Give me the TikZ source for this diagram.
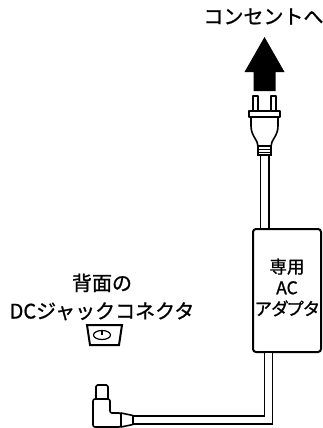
\documentclass[tikz,border=0pt]{standalone}
\usepackage{fontspec}
\newfontfamily\jp[FakeBold=1.0]{Noto Sans CJK JP}
\newfontfamily\jpp[FakeBold=1.0,RawFeature=+palt]{Noto Sans CJK JP}
\begin{document}
\begin{tikzpicture}[x=1pt,y=-1pt,
  ol/.style={line width=1.6pt, line join=round},
  cord/.style={line width=1.5pt, double=white, double distance=7pt, line join=miter},
  cordb/.style={line width=1.5pt, double=white, double distance=6.5pt, line join=miter},
  lbl/.style={font=\jp\fontsize{20}{28}\selectfont, align=center, inner sep=0pt},
  adlbl/.style={font=\jp\fontsize{17.5}{21}\selectfont, align=center, inner sep=0pt}]
\useasboundingbox (0,0) rectangle (323,428);

% label
\node[lbl] (outlet) at (263.5,16.5) {コンセントへ};

% arrow
\fill (264.5,37) -- (284.5,72) -- (275.5,72) -- (275.5,91) -- (253.5,91) -- (253.5,72) -- (244.5,72) -- cycle;

% plug
\draw[ol, fill=white] (253,96) rectangle (258,112);
\draw[ol, fill=white] (271,96) rectangle (276,112);
\draw[ol, fill=white] (251,116) -- (251,126) .. controls (251,136) and (258,140) .. (258,146) -- (271,146) .. controls (271,140) and (278,136) .. (278,126) -- (278,116);
\draw[ol, fill=white] (249,111) rectangle (280,117);
\node[draw, line width=1.4pt, fill=white, minimum width=13pt, minimum height=9pt, inner sep=0pt] (grip) at (264.5,150.5) {};
\draw[line width=1pt] (258,149) -- (271,149) (258,152) -- (271,152);

% adapter
\node[draw, line width=2pt, rounded corners=3pt, minimum width=68pt, minimum height=123pt, inner sep=0pt] (adapter) at (287,290.5) {};
\node[adlbl] (adlabel) at (287,287.5) {専用\\AC\\{\jpp アダプタ}};

% upper cord
\draw[cord] (grip.south) -- (grip.south |- adapter.north);

% lower cord
\coordinate (bend) at (268.5,420);
\coordinate (sleeveend) at (133,420);
\draw[cordb] (bend |- adapter.south) -- (bend) -- (sleeveend);

% L connector
\draw[ol, fill=white, rounded corners=1.5pt] (96,399) -- (96,385) -- (108,385) -- (108,399);
\draw[ol, fill=white, rounded corners=2pt] (93,399) -- (110,399) -- (110,413) -- (121,413) -- (121,427) -- (93,427) -- cycle;
\draw[ol, fill=white] (121,413) -- (133,415.5) -- (133,424.5) -- (121,427) -- cycle;

% jack label and icon
\node[lbl] (jack) at (102,297) {背面の\\DCジャックコネクタ};
\draw[line width=2pt, line join=miter] (87,325) -- (122,325) -- (119,345) -- (90,345) -- cycle;
\draw[line width=1.2pt] (102,335) ellipse (8.5 and 4.5);
\draw[line width=1.2pt] (102,330.5) -- (102,335);
\end{tikzpicture}
\end{document}
